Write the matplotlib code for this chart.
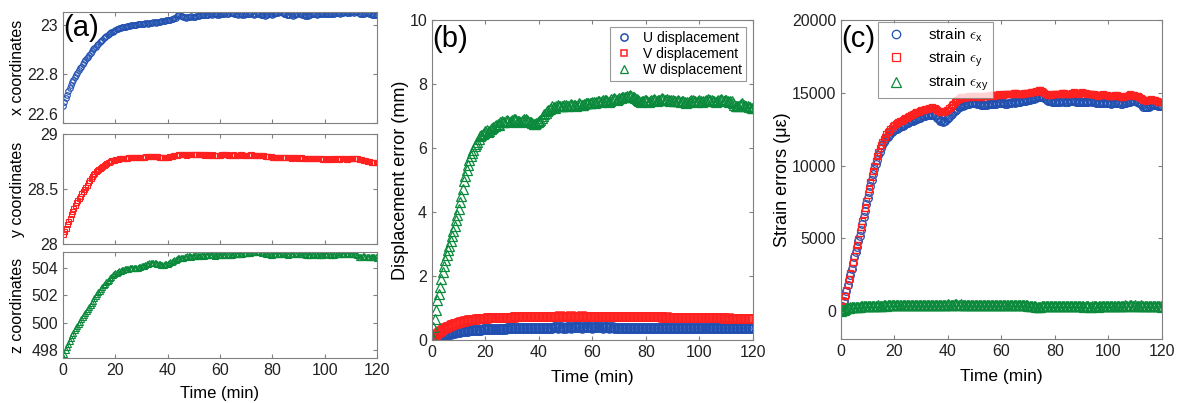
import numpy as np
import matplotlib
matplotlib.use('Agg')
import matplotlib.pyplot as plt

plt.rcParams['font.family'] = ['Liberation Sans', 'DejaVu Sans']
plt.rcParams['mathtext.fontset'] = 'cm'

# time axis (min), one sample every half minute
t = np.arange(0, 120.5, 0.5)

# (a) coordinates
x_coord = [22.67, 22.685, 22.70, 22.715, 22.73, 22.743, 22.755, 22.766, 22.775, 22.786, 22.796, 22.806, 22.815, 22.823, 22.83, 22.84, 22.848, 22.856, 22.864, 22.871,
           22.878, 22.886, 22.893, 22.9, 22.906, 22.912, 22.918, 22.924, 22.93, 22.935, 22.94, 22.945, 22.95, 22.954, 22.958, 22.962, 22.966, 22.97, 22.973, 22.977,
           22.98, 22.982, 22.984, 22.986, 22.988, 22.99, 22.99, 22.992, 22.993, 22.995, 22.996, 22.997, 22.998, 23.0, 23.0, 22.998, 23.0, 23.002, 23.003, 23.004,
           23.005, 23.006, 23.006, 23.007, 23.008, 23.006, 23.007, 23.009, 23.01, 23.011, 23.012, 23.01, 23.011, 23.013, 23.014, 23.015, 23.016, 23.017, 23.018, 23.019,
           23.02, 23.021, 23.022, 23.023, 23.024, 23.027, 23.03, 23.036, 23.042, 23.04, 23.038, 23.035, 23.032, 23.031, 23.03, 23.032, 23.033, 23.034, 23.035, 23.033,
           23.032, 23.034, 23.036, 23.037, 23.038, 23.039, 23.04, 23.041, 23.042, 23.041, 23.04, 23.042, 23.044, 23.043, 23.042, 23.044, 23.046, 23.043, 23.04, 23.041,
           23.043, 23.044, 23.045, 23.046, 23.048, 23.046, 23.044, 23.047, 23.05, 23.048, 23.047, 23.045, 23.044, 23.043, 23.042, 23.043, 23.045, 23.042, 23.04, 23.043,
           23.046, 23.044, 23.043, 23.045, 23.047, 23.044, 23.042, 23.045, 23.048, 23.046, 23.044, 23.042, 23.04, 23.039, 23.038, 23.04, 23.042, 23.044, 23.046, 23.044,
           23.042, 23.045, 23.048, 23.049, 23.05, 23.052, 23.054, 23.051, 23.048, 23.046, 23.044, 23.042, 23.04, 23.042, 23.045, 23.041, 23.038, 23.04, 23.043, 23.045,
           23.047, 23.045, 23.044, 23.042, 23.04, 23.038, 23.036, 23.038, 23.04, 23.041, 23.043, 23.044, 23.046, 23.044, 23.042, 23.043, 23.044, 23.046, 23.048, 23.046,
           23.045, 23.044, 23.043, 23.044, 23.046, 23.045, 23.045, 23.046, 23.047, 23.048, 23.049, 23.047, 23.046, 23.048, 23.05, 23.051, 23.052, 23.05, 23.048, 23.05,
           23.053, 23.051, 23.05, 23.052, 23.054, 23.051, 23.048, 23.046, 23.044, 23.045, 23.046, 23.048, 23.05, 23.047, 23.045, 23.043, 23.042, 23.041, 23.04, 23.041,
           23.042]
y_coord = [28.09, 28.12, 28.15, 28.18, 28.21, 28.24, 28.27, 28.3, 28.33, 28.355, 28.38, 28.4, 28.42, 28.44, 28.46, 28.48, 28.5, 28.52, 28.54, 28.56,
           28.58, 28.6, 28.62, 28.635, 28.65, 28.66, 28.67, 28.68, 28.69, 28.7, 28.71, 28.72, 28.73, 28.738, 28.745, 28.75, 28.755, 28.76, 28.765, 28.768,
           28.77, 28.772, 28.775, 28.778, 28.78, 28.781, 28.782, 28.784, 28.785, 28.786, 28.787, 28.789, 28.79, 28.79, 28.79, 28.791, 28.792, 28.794, 28.795, 28.794,
           28.793, 28.794, 28.795, 28.798, 28.8, 28.799, 28.798, 28.797, 28.796, 28.798, 28.8, 28.799, 28.797, 28.794, 28.79, 28.789, 28.788, 28.79, 28.792, 28.794,
           28.795, 28.798, 28.8, 28.803, 28.805, 28.808, 28.81, 28.812, 28.815, 28.818, 28.82, 28.819, 28.818, 28.815, 28.812, 28.814, 28.815, 28.818, 28.822, 28.82,
           28.818, 28.816, 28.815, 28.818, 28.82, 28.819, 28.818, 28.815, 28.812, 28.814, 28.815, 28.812, 28.81, 28.813, 28.815, 28.813, 28.812, 28.81, 28.808, 28.81,
           28.812, 28.814, 28.815, 28.817, 28.818, 28.815, 28.812, 28.81, 28.808, 28.811, 28.815, 28.812, 28.81, 28.811, 28.812, 28.814, 28.815, 28.812, 28.81, 28.809,
           28.808, 28.81, 28.812, 28.814, 28.815, 28.812, 28.81, 28.807, 28.805, 28.808, 28.81, 28.809, 28.808, 28.805, 28.802, 28.801, 28.8, 28.799, 28.798, 28.796,
           28.795, 28.793, 28.792, 28.794, 28.795, 28.792, 28.79, 28.791, 28.792, 28.79, 28.788, 28.789, 28.79, 28.788, 28.786, 28.788, 28.79, 28.789, 28.788, 28.786,
           28.785, 28.787, 28.788, 28.786, 28.785, 28.783, 28.782, 28.784, 28.785, 28.782, 28.78, 28.779, 28.778, 28.78, 28.782, 28.781, 28.78, 28.778, 28.776, 28.777,
           28.778, 28.776, 28.775, 28.777, 28.778, 28.777, 28.776, 28.778, 28.78, 28.778, 28.776, 28.777, 28.778, 28.779, 28.78, 28.778, 28.776, 28.777, 28.778, 28.779,
           28.78, 28.779, 28.778, 28.779, 28.78, 28.778, 28.776, 28.773, 28.77, 28.768, 28.765, 28.762, 28.758, 28.755, 28.752, 28.75, 28.748, 28.746, 28.745, 28.744,
           28.742]
z_coord = [497.5, 497.75, 498.0, 498.25, 498.5, 498.7, 498.9, 499.1, 499.3, 499.48, 499.65, 499.8, 499.95, 500.1, 500.25, 500.4, 500.55, 500.7, 500.85, 501.0,
           501.15, 501.3, 501.45, 501.62, 501.8, 501.95, 502.1, 502.22, 502.35, 502.48, 502.6, 502.72, 502.85, 502.95, 503.05, 503.15, 503.25, 503.35, 503.45, 503.52,
           503.6, 503.65, 503.7, 503.75, 503.8, 503.82, 503.85, 503.88, 503.9, 503.92, 503.95, 503.96, 503.98, 503.99, 504.0, 503.98, 503.97, 504.01, 504.05, 504.08,
           504.1, 504.12, 504.15, 504.2, 504.25, 504.28, 504.32, 504.35, 504.38, 504.36, 504.35, 504.32, 504.3, 504.28, 504.25, 504.24, 504.22, 504.23, 504.25, 504.28,
           504.3, 504.35, 504.4, 504.45, 504.5, 504.55, 504.6, 504.64, 504.68, 504.7, 504.72, 504.74, 504.75, 504.78, 504.8, 504.83, 504.85, 504.84, 504.82, 504.85,
           504.88, 504.89, 504.9, 504.88, 504.85, 504.88, 504.92, 504.9, 504.88, 504.91, 504.95, 504.92, 504.9, 504.91, 504.93, 504.9, 504.88, 504.91, 504.95, 504.93,
           504.92, 504.91, 504.9, 504.92, 504.95, 504.96, 504.98, 504.95, 504.93, 504.95, 504.97, 504.98, 505.0, 505.01, 505.02, 505.0, 504.98, 505.01, 505.05, 505.06,
           505.08, 505.09, 505.1, 505.11, 505.12, 505.13, 505.15, 505.17, 505.2, 505.17, 505.15, 505.12, 505.1, 505.07, 505.05, 505.02, 505.0, 504.98, 504.97, 504.96,
           504.95, 504.97, 505.0, 504.98, 504.97, 505.0, 505.02, 505.03, 505.05, 505.02, 505.0, 504.98, 504.96, 504.98, 505.0, 505.01, 505.03, 505.04, 505.05, 505.02,
           505.0, 504.99, 504.98, 505.0, 505.02, 504.98, 504.95, 504.93, 504.92, 504.94, 504.96, 504.98, 505.0, 504.97, 504.95, 504.92, 504.9, 504.92, 504.95, 504.96,
           504.98, 504.99, 505.0, 504.98, 504.96, 504.94, 504.93, 504.95, 504.97, 504.98, 505.0, 505.01, 505.02, 505.0, 504.98, 504.99, 505.0, 505.02, 505.05, 505.03,
           505.02, 505.01, 505.0, 505.01, 505.03, 504.9, 504.78, 504.8, 504.82, 504.84, 504.85, 504.82, 504.8, 504.81, 504.82, 504.8, 504.78, 504.79, 504.8, 504.78,
           504.75]

# (b) displacement error (mm)
u_disp = [0.0, 0.02, 0.04, 0.06, 0.08, 0.095, 0.11, 0.125, 0.14, 0.15, 0.16, 0.17, 0.18, 0.19, 0.2, 0.21, 0.22, 0.23, 0.24, 0.25,
          0.26, 0.265, 0.27, 0.275, 0.28, 0.285, 0.29, 0.295, 0.3, 0.305, 0.31, 0.312, 0.315, 0.318, 0.32, 0.322, 0.325, 0.328, 0.33, 0.332,
          0.335, 0.338, 0.34, 0.34, 0.34, 0.342, 0.345, 0.348, 0.35, 0.35, 0.35, 0.352, 0.355, 0.355, 0.355, 0.358, 0.36, 0.36, 0.36, 0.36,
          0.36, 0.362, 0.365, 0.365, 0.365, 0.368, 0.37, 0.37, 0.37, 0.37, 0.37, 0.372, 0.375, 0.375, 0.375, 0.378, 0.38, 0.38, 0.38, 0.38,
          0.38, 0.382, 0.385, 0.385, 0.385, 0.388, 0.39, 0.39, 0.39, 0.39, 0.39, 0.392, 0.395, 0.392, 0.39, 0.392, 0.395, 0.392, 0.39, 0.39,
          0.39, 0.392, 0.395, 0.392, 0.39, 0.392, 0.395, 0.398, 0.4, 0.398, 0.395, 0.392, 0.39, 0.392, 0.395, 0.398, 0.4, 0.398, 0.395, 0.392,
          0.39, 0.392, 0.395, 0.398, 0.4, 0.398, 0.395, 0.392, 0.39, 0.392, 0.395, 0.392, 0.39, 0.392, 0.395, 0.392, 0.39, 0.388, 0.385, 0.388,
          0.39, 0.39, 0.39, 0.388, 0.385, 0.388, 0.39, 0.388, 0.385, 0.388, 0.39, 0.388, 0.385, 0.382, 0.38, 0.382, 0.385, 0.382, 0.38, 0.382,
          0.385, 0.382, 0.38, 0.382, 0.385, 0.382, 0.38, 0.38, 0.38, 0.382, 0.385, 0.382, 0.38, 0.38, 0.38, 0.378, 0.375, 0.378, 0.38, 0.38,
          0.38, 0.378, 0.375, 0.378, 0.38, 0.378, 0.375, 0.375, 0.375, 0.378, 0.38, 0.378, 0.375, 0.375, 0.375, 0.372, 0.37, 0.372, 0.375, 0.375,
          0.375, 0.372, 0.37, 0.372, 0.375, 0.372, 0.37, 0.37, 0.37, 0.372, 0.375, 0.372, 0.37, 0.37, 0.37, 0.37, 0.37, 0.372, 0.375, 0.372,
          0.37, 0.37, 0.37, 0.368, 0.365, 0.368, 0.37, 0.368, 0.365, 0.368, 0.37, 0.368, 0.365, 0.365, 0.365, 0.362, 0.36, 0.362, 0.365, 0.362,
          0.36]
v_disp = [0.0, 0.05, 0.1, 0.14, 0.18, 0.215, 0.25, 0.28, 0.31, 0.335, 0.36, 0.38, 0.4, 0.42, 0.44, 0.455, 0.47, 0.485, 0.5, 0.51,
          0.52, 0.535, 0.55, 0.56, 0.57, 0.58, 0.59, 0.6, 0.61, 0.615, 0.62, 0.628, 0.635, 0.64, 0.645, 0.65, 0.655, 0.66, 0.665, 0.668,
          0.67, 0.672, 0.675, 0.678, 0.68, 0.682, 0.685, 0.688, 0.69, 0.69, 0.69, 0.692, 0.695, 0.695, 0.695, 0.698, 0.7, 0.7, 0.7, 0.7,
          0.7, 0.702, 0.705, 0.705, 0.705, 0.708, 0.71, 0.71, 0.71, 0.71, 0.71, 0.712, 0.715, 0.715, 0.715, 0.715, 0.715, 0.718, 0.72, 0.72,
          0.72, 0.72, 0.72, 0.722, 0.725, 0.725, 0.725, 0.725, 0.725, 0.728, 0.73, 0.73, 0.73, 0.73, 0.73, 0.732, 0.735, 0.732, 0.73, 0.73,
          0.73, 0.73, 0.73, 0.732, 0.735, 0.732, 0.73, 0.73, 0.73, 0.73, 0.73, 0.732, 0.735, 0.732, 0.73, 0.73, 0.73, 0.73, 0.73, 0.73,
          0.73, 0.73, 0.73, 0.73, 0.73, 0.728, 0.725, 0.728, 0.73, 0.728, 0.725, 0.725, 0.725, 0.728, 0.73, 0.728, 0.725, 0.725, 0.725, 0.722,
          0.72, 0.722, 0.725, 0.722, 0.72, 0.72, 0.72, 0.72, 0.72, 0.72, 0.72, 0.718, 0.715, 0.718, 0.72, 0.718, 0.715, 0.715, 0.715, 0.712,
          0.71, 0.71, 0.71, 0.71, 0.71, 0.708, 0.705, 0.708, 0.71, 0.708, 0.705, 0.705, 0.705, 0.702, 0.7, 0.702, 0.705, 0.702, 0.7, 0.7,
          0.7, 0.7, 0.7, 0.698, 0.695, 0.695, 0.695, 0.692, 0.69, 0.692, 0.695, 0.692, 0.69, 0.69, 0.69, 0.688, 0.685, 0.688, 0.69, 0.688,
          0.685, 0.682, 0.685, 0.682, 0.68, 0.682, 0.685, 0.682, 0.68, 0.68, 0.68, 0.678, 0.675, 0.678, 0.68, 0.678, 0.675, 0.675, 0.675, 0.672,
          0.67, 0.672, 0.675, 0.672, 0.67, 0.67, 0.67, 0.668, 0.665, 0.665, 0.665, 0.662, 0.66, 0.662, 0.665, 0.662, 0.66, 0.66, 0.66, 0.658,
          0.655]
w_disp = [0.1, 0.4, 0.67, 0.95, 1.25, 1.45, 1.66, 1.9, 2.13, 2.32, 2.5, 2.65, 2.8, 2.95, 3.1, 3.25, 3.4, 3.57, 3.74, 3.92,
          4.1, 4.3, 4.5, 4.73, 4.96, 5.12, 5.3, 5.47, 5.64, 5.75, 5.85, 5.95, 6.05, 6.12, 6.2, 6.28, 6.37, 6.42, 6.45, 6.48,
          6.52, 6.55, 6.5, 6.54, 6.6, 6.62, 6.65, 6.7, 6.72, 6.75, 6.73, 6.8, 6.85, 6.82, 6.8, 6.85, 6.88, 6.85, 6.82, 6.85,
          6.88, 6.9, 6.9, 6.88, 6.85, 6.83, 6.82, 6.86, 6.88, 6.9, 6.9, 6.88, 6.85, 6.82, 6.8, 6.78, 6.75, 6.76, 6.78, 6.8,
          6.83, 6.88, 6.95, 7.0, 7.05, 7.1, 7.15, 7.18, 7.22, 7.26, 7.3, 7.28, 7.25, 7.3, 7.35, 7.32, 7.3, 7.31, 7.32, 7.34,
          7.35, 7.32, 7.3, 7.34, 7.38, 7.36, 7.35, 7.33, 7.32, 7.36, 7.4, 7.38, 7.35, 7.36, 7.38, 7.4, 7.42, 7.41, 7.4, 7.42,
          7.45, 7.44, 7.42, 7.45, 7.48, 7.46, 7.45, 7.48, 7.5, 7.5, 7.5, 7.48, 7.45, 7.48, 7.52, 7.54, 7.55, 7.52, 7.5, 7.52,
          7.55, 7.57, 7.58, 7.59, 7.6, 7.61, 7.62, 7.64, 7.66, 7.63, 7.6, 7.58, 7.55, 7.52, 7.5, 7.48, 7.45, 7.46, 7.48, 7.49,
          7.5, 7.48, 7.45, 7.48, 7.5, 7.51, 7.52, 7.5, 7.48, 7.49, 7.5, 7.52, 7.55, 7.52, 7.5, 7.51, 7.52, 7.5, 7.48, 7.49,
          7.5, 7.48, 7.46, 7.48, 7.5, 7.48, 7.45, 7.46, 7.48, 7.45, 7.42, 7.44, 7.45, 7.48, 7.5, 7.49, 7.48, 7.46, 7.45, 7.48,
          7.5, 7.48, 7.45, 7.46, 7.48, 7.5, 7.52, 7.51, 7.5, 7.49, 7.48, 7.46, 7.45, 7.48, 7.5, 7.51, 7.52, 7.5, 7.48, 7.49,
          7.5, 7.48, 7.45, 7.46, 7.48, 7.42, 7.35, 7.32, 7.3, 7.32, 7.35, 7.38, 7.4, 7.36, 7.32, 7.31, 7.3, 7.29, 7.28, 7.26,
          7.25]

# (c) strain errors (micro-strain)
eps_x = [0, 350, 700, 1050, 1400, 1780, 2150, 2520, 2900, 3300, 3700, 4050, 4400, 4800, 5200, 5600, 6000, 6450, 6900, 7350,
         7800, 8200, 8600, 9000, 9400, 9750, 10100, 10400, 10700, 10950, 11200, 11400, 11600, 11750, 11900, 12000, 12100, 12200, 12300, 12380,
         12450, 12500, 12550, 12600, 12650, 12700, 12750, 12800, 12850, 12900, 12950, 13000, 13050, 13080, 13100, 13150, 13200, 13220, 13250, 13300,
         13350, 13380, 13400, 13420, 13450, 13480, 13500, 13490, 13480, 13460, 13450, 13380, 13300, 13200, 13100, 13050, 13000, 13050, 13100, 13180,
         13250, 13350, 13450, 13550, 13650, 13750, 13850, 13920, 14000, 14050, 14100, 14120, 14150, 14180, 14200, 14220, 14250, 14270, 14280, 14290,
         14300, 14280, 14250, 14220, 14200, 14190, 14180, 14170, 14160, 14180, 14200, 14220, 14250, 14240, 14220, 14230, 14250, 14270, 14280, 14290,
         14300, 14290, 14280, 14260, 14250, 14270, 14300, 14320, 14350, 14340, 14320, 14350, 14380, 14390, 14400, 14410, 14420, 14440, 14450, 14480,
         14500, 14520, 14550, 14580, 14600, 14620, 14650, 14690, 14720, 14730, 14740, 14700, 14650, 14580, 14500, 14460, 14420, 14410, 14400, 14400,
         14400, 14390, 14380, 14390, 14400, 14410, 14420, 14400, 14380, 14390, 14400, 14410, 14420, 14430, 14450, 14420, 14400, 14390, 14380, 14390,
         14400, 14380, 14350, 14360, 14380, 14400, 14420, 14410, 14400, 14380, 14350, 14320, 14300, 14290, 14280, 14290, 14300, 14310, 14320, 14310,
         14300, 14280, 14250, 14270, 14300, 14310, 14320, 14300, 14280, 14260, 14250, 14270, 14300, 14320, 14350, 14380, 14400, 14420, 14450, 14440,
         14420, 14380, 14350, 14300, 14250, 14150, 14050, 14020, 14000, 14020, 14050, 14100, 14150, 14180, 14200, 14180, 14150, 14120, 14100, 14100,
         14100]
eps_y = [0, 360, 720, 1080, 1450, 1820, 2200, 2600, 3000, 3400, 3800, 4180, 4550, 4950, 5350, 5780, 6200, 6650, 7100, 7550,
         8000, 8420, 8850, 9250, 9650, 10000, 10350, 10650, 10950, 11200, 11450, 11650, 11850, 12000, 12150, 12280, 12400, 12500, 12600, 12700,
         12800, 12880, 12950, 13000, 13050, 13100, 13150, 13200, 13250, 13300, 13350, 13400, 13450, 13500, 13550, 13600, 13650, 13680, 13700, 13750,
         13800, 13820, 13850, 13880, 13900, 13920, 13950, 13980, 14000, 13980, 13950, 13900, 13850, 13780, 13700, 13680, 13650, 13700, 13750, 13800,
         13850, 13950, 14050, 14150, 14250, 14350, 14450, 14520, 14600, 14650, 14700, 14680, 14650, 14680, 14700, 14720, 14750, 14720, 14700, 14750,
         14800, 14780, 14750, 14720, 14700, 14720, 14750, 14780, 14800, 14780, 14750, 14800, 14850, 14820, 14800, 14820, 14850, 14880, 14900, 14880,
         14850, 14880, 14900, 14920, 14950, 14920, 14900, 14920, 14950, 14980, 15000, 14980, 14950, 14920, 14900, 14920, 14950, 14980, 15000, 15000,
         15000, 15020, 15050, 15050, 15050, 15080, 15100, 15150, 15200, 15180, 15150, 15080, 15000, 14950, 14900, 14880, 14850, 14880, 14900, 14920,
         14950, 14920, 14900, 14920, 14950, 14980, 15000, 14980, 14950, 14920, 14900, 14920, 14950, 15000, 15050, 15020, 15000, 14980, 14950, 15000,
         15050, 15020, 15000, 14980, 14950, 14920, 14900, 14920, 14950, 14900, 14850, 14820, 14800, 14820, 14850, 14880, 14900, 14880, 14850, 14820,
         14800, 14780, 14750, 14780, 14800, 14820, 14850, 14800, 14750, 14720, 14700, 14720, 14750, 14780, 14800, 14850, 14900, 14880, 14850, 14820,
         14800, 14780, 14750, 14700, 14650, 14580, 14500, 14480, 14450, 14480, 14500, 14520, 14550, 14520, 14500, 14480, 14450, 14400, 14350, 14350,
         14350]
eps_xy = [0, 60, 120, 160, 200, 230, 250, 270, 280, 290, 300, 310, 320, 325, 330, 335, 340, 350, 360, 365,
          370, 375, 380, 370, 360, 375, 390, 395, 400, 390, 380, 395, 410, 400, 390, 405, 420, 410, 400, 405,
          410, 420, 430, 415, 400, 410, 420, 430, 440, 425, 410, 420, 430, 440, 450, 435, 420, 430, 440, 435,
          430, 420, 410, 425, 440, 435, 430, 440, 450, 435, 420, 430, 440, 450, 460, 445, 430, 440, 450, 460,
          470, 455, 440, 450, 460, 470, 480, 465, 450, 460, 470, 455, 440, 450, 460, 445, 430, 440, 450, 445,
          440, 430, 420, 430, 440, 425, 410, 420, 430, 440, 450, 435, 420, 430, 440, 425, 410, 420, 430, 425,
          420, 430, 440, 430, 420, 435, 450, 440, 430, 445, 460, 450, 440, 430, 420, 410, 400, 405, 410, 400,
          390, 380, 370, 360, 350, 340, 330, 325, 320, 330, 340, 350, 360, 355, 350, 360, 370, 375, 380, 370,
          360, 370, 380, 375, 370, 380, 390, 375, 360, 370, 380, 365, 350, 360, 370, 355, 340, 350, 360, 355,
          350, 340, 330, 340, 350, 335, 320, 330, 340, 350, 360, 345, 330, 340, 350, 345, 340, 350, 360, 365,
          370, 360, 350, 365, 380, 370, 360, 375, 390, 380, 370, 385, 400, 390, 380, 395, 410, 400, 390, 395,
          400, 390, 380, 390, 400, 385, 370, 380, 390, 375, 360, 370, 380, 365, 350, 360, 370, 355, 340, 335,
          330]

blue = '#2150b0'
red = '#ff2020'
green = '#0c8a3c'
spine_c = '#808080'


def style(ax, labels=True, size=11):
    ax.tick_params(direction='in', top=True, right=True, length=3,
                   color=spine_c, labelsize=size, labelcolor='#222222')
    for s in ax.spines.values():
        s.set_color(spine_c)
        s.set_linewidth(0.8)
    ax.set_xlim(0, 120)
    ax.set_xticks(range(0, 121, 20))
    if not labels:
        ax.set_xticklabels([])


fig = plt.figure(figsize=(11.78, 4.03), dpi=100)

# panel (a): three stacked axes
ax1 = fig.add_axes([0.0535, 1 - 123 / 403, 0.2666, 111 / 403])
ax2 = fig.add_axes([0.0535, 1 - 244 / 403, 0.2666, 110 / 403])
ax3 = fig.add_axes([0.0535, 1 - 358 / 403, 0.2666, 106 / 403])

ax1.plot(t, x_coord, 'o', mfc='none', mec=blue, ms=4, mew=0.8)
ax1.set_ylim(22.6, 23.053)
ax1.set_yticks([22.6, 22.8, 23])
ax1.set_yticklabels(['22.6', '22.8', '23'])
ax1.set_ylabel('x coordinates', fontsize=11.5)
style(ax1, False, 11.5)
ax1.get_yticklabels()[0].set_va('bottom')
ax1.text(0.0, 0.98, '(a)', transform=ax1.transAxes, fontsize=21, va='top', ha='left')

ax2.plot(t, y_coord, 's', mfc='none', mec=red, ms=3.6, mew=0.8)
ax2.set_ylim(28, 29)
ax2.set_yticks([28, 28.5, 29])
ax2.set_yticklabels(['28', '28.5', '29'])
ax2.set_ylabel('y coordinates', fontsize=11.5)
style(ax2, False, 11.5)

ax3.plot(t, z_coord, '^', mfc='none', mec=green, ms=4.5, mew=0.8)
ax3.set_ylim(497.45, 505.15)
ax3.set_yticks([498, 500, 502, 504])
ax3.set_ylabel('z coordinates', fontsize=11.5)
ax3.set_xlabel('Time (min)', fontsize=12, labelpad=6)
style(ax3, True, 11.5)

for a in (ax1, ax2, ax3):
    a.yaxis.set_label_coords(-0.122, 0.5)

# panel (b)
axb = fig.add_axes([0.3667, 0.1563, 0.2725, 0.7940])
axb.plot(t, u_disp, 'o', mfc='none', mec=blue, ms=6.5, mew=1.1, label='U displacement')
axb.plot(t, v_disp, 's', mfc='none', mec=red, ms=6, mew=1.1, label='V displacement')
axb.plot(t, w_disp, '^', mfc='none', mec=green, ms=7.5, mew=0.9, label='W displacement')
axb.set_ylim(0, 10)
axb.set_yticks(range(0, 11, 2))
axb.set_ylabel('Displacement error (mm)', fontsize=13)
axb.set_xlabel('Time (min)', fontsize=12.5, labelpad=7)
style(axb, True, 11.5)
axb.yaxis.set_label_coords(-0.072, 0.5)
leg = axb.legend(loc='upper right', fontsize=10, fancybox=False, edgecolor=spine_c,
                 borderaxespad=0.5, handletextpad=0.6, labelspacing=0.15, borderpad=0.3,
                 handlelength=1.5, markerscale=0.8)
leg.get_frame().set_linewidth(0.8)
axb.text(0.0, 0.985, '(b)', transform=axb.transAxes, fontsize=21, va='top', ha='left')

# panel (c)
axc = fig.add_axes([0.7139, 0.1588, 0.2725, 0.7916])
axc.plot(t, eps_x, 'o', mfc='none', mec=blue, ms=5.5, mew=0.9,
         label=r'strain $\epsilon_{\mathregular{x}}$')
axc.plot(t, eps_y, 's', mfc='none', mec=red, ms=5, mew=0.9,
         label=r'strain $\epsilon_{\mathregular{y}}$')
axc.plot(t, eps_xy, '^', mfc='none', mec=green, ms=6.5, mew=0.9,
         label=r'strain $\epsilon_{\mathregular{xy}}$')
axc.set_ylim(-1900, 20000)
axc.set_yticks(range(0, 20001, 5000))
axc.set_ylabel('Strain errors (\u03bc\u03b5)', fontsize=13)
axc.set_xlabel('Time (min)', fontsize=12.5, labelpad=7)
style(axc, True, 11.5)
axc.yaxis.set_label_coords(-0.155, 0.5)
leg = axc.legend(loc='upper left', fontsize=11, fancybox=False, edgecolor=spine_c,
                 bbox_to_anchor=(0.115, 0.995), borderaxespad=0.0, handletextpad=1.2,
                 labelspacing=0.35, borderpad=0.3, handlelength=1.8, markerscale=1.1)
leg.get_frame().set_linewidth(0.8)
axc.text(0.0, 0.985, '(c)', transform=axc.transAxes, fontsize=21, va='top', ha='left')

fig.savefig('out.png', dpi=100)
